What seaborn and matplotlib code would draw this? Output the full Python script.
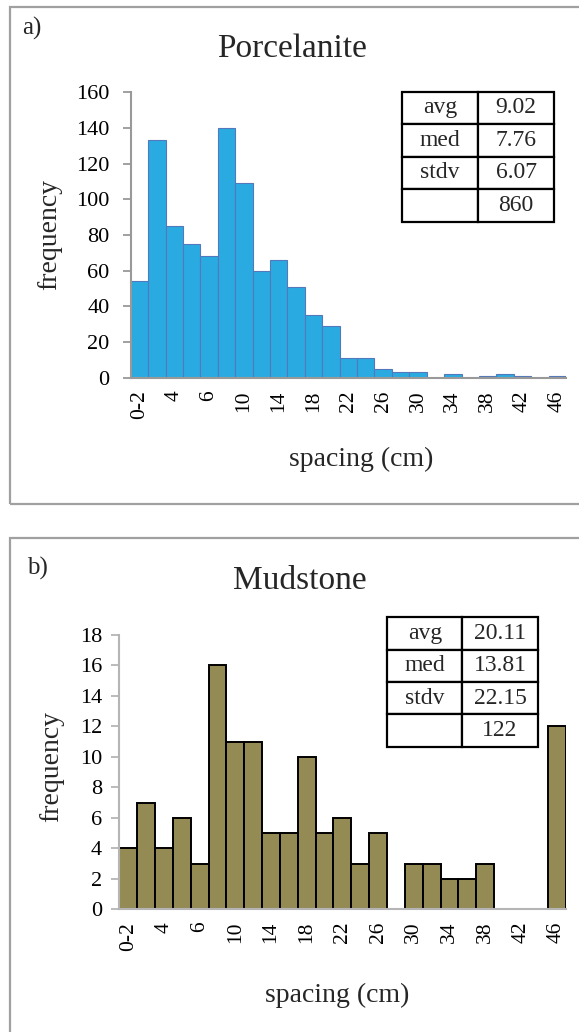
import matplotlib
matplotlib.use("Agg")
import matplotlib.pyplot as plt
import seaborn as sns
import pandas as pd
from matplotlib.patches import Rectangle

# ---------------- data ----------------
bin_ids = list(range(25))
porc_freq = [54, 133, 85, 75, 68, 140, 109, 60, 66, 51, 35, 29, 11, 11, 5, 3, 3, 0, 2, 0, 1, 2, 1, 0, 1]
mud_freq = [4, 7, 4, 6, 3, 16, 11, 11, 5, 5, 10, 5, 6, 3, 5, 0, 3, 3, 2, 2, 3, 0, 0, 0, 12]
tick_labels = ["0-2", "4", "6", "10", "14", "18", "22", "26", "30", "34", "38", "42", "46"]
stat_names = ["avg", "med", "stdv", ""]
porc_stats = ["9.02", "7.76", "6.07", "860"]
mud_stats = ["20.11", "13.81", "22.15", "122"]

sns.set_theme(style="white")
plt.rcParams["font.family"] = ["Liberation Serif", "DejaVu Serif"]

W, H = 579, 1032
fig = plt.figure(figsize=(W / 100, H / 100), dpi=100)


def fx(x):
    return x / W


def fy(y):
    return 1 - y / H


# panel frames
for top, bot in [(7, 504), (538, 1045)]:
    fig.patches.append(Rectangle((fx(10), fy(bot)), fx(620) - fx(10), (bot - top) / H,
                                 transform=fig.transFigure, fill=False,
                                 ec="#a0a0a0", lw=1.6))


def panel(rect, freq, ymax, ystep, color, edge, elw, axcol, ypad, stats, tbbox):
    ax = fig.add_axes(rect)
    df = pd.DataFrame({"bin": bin_ids, "freq": freq})
    sns.barplot(data=df, x="bin", y="freq", color=color, saturation=1, width=1,
                edgecolor=edge, linewidth=elw, errorbar=None, ax=ax)
    ax.set_xlim(-0.5, len(bin_ids) - 0.5)
    ax.set_ylim(0, ymax)
    ax.set_yticks(range(0, ymax + 1, ystep))
    ax.set_xticks(bin_ids[::2])
    ax.set_xticklabels(tick_labels, rotation=90, fontsize=15.5)
    ax.tick_params(axis="x", length=0, pad=9, colors="black")
    ax.tick_params(axis="y", length=5.8, width=1.3, color=axcol, pad=ypad,
                   labelsize=16, labelcolor="black", direction="out", left=True)
    for s in ["top", "right"]:
        ax.spines[s].set_visible(False)
    for s in ["left", "bottom"]:
        ax.spines[s].set_color(axcol)
        ax.spines[s].set_linewidth(1.5)
    ax.set_xlabel("")
    ax.set_ylabel("")
    ax.grid(False)
    cells = [[n, v] for n, v in zip(stat_names, stats)]
    tb = ax.table(cellText=cells, cellLoc="center", bbox=tbbox)
    tb.auto_set_font_size(False)
    tb.set_fontsize(17)
    for key, cell in tb.get_celld().items():
        cell.set_linewidth(1.6)
        cell.set_edgecolor("black")
        cell.set_facecolor("white")
        cell.get_text().set_fontfamily(["Liberation Serif"])
    tb.set_clip_on(False)
    tb.set_zorder(5)
    return ax


# panel a
panel([130.7 / W, (H - 377.7) / H, 435.3 / W, 285.4 / H], porc_freq, 160, 20,
      "#29abe2", "#5479ba", 0.8, "#999999", 9.5,
      porc_stats, [0.6233, 0.5466, 0.3492, 0.4555])
fig.text(fx(22), fy(28), "a)", fontsize=18, ha="left", va="center")
fig.text(fx(292), fy(49), "Porcelanite", fontsize=24, ha="center", va="center")
fig.text(fx(50), fy(235), "frequency", fontsize=20, rotation=90, ha="center", va="center")
fig.text(fx(361), fy(459), "spacing (cm)", fontsize=20, ha="center", va="center")

# panel b
panel([119.3 / W, (H - 909.3) / H, 446.2 / W, 274.3 / H], mud_freq, 18, 2,
      "#948a54", "black", 1.4, "#b5b5b5", 6.5,
      mud_stats, [0.6006, 0.5928, 0.3371, 0.4717])
fig.text(fx(27), fy(568), "b)", fontsize=18, ha="left", va="center")
fig.text(fx(300), fy(581), "Mudstone", fontsize=24, ha="center", va="center")
fig.text(fx(52), fy(766), "frequency", fontsize=20, rotation=90, ha="center", va="center")
fig.text(fx(337), fy(995), "spacing (cm)", fontsize=20, ha="center", va="center")

fig.savefig("out.png", dpi=100)
